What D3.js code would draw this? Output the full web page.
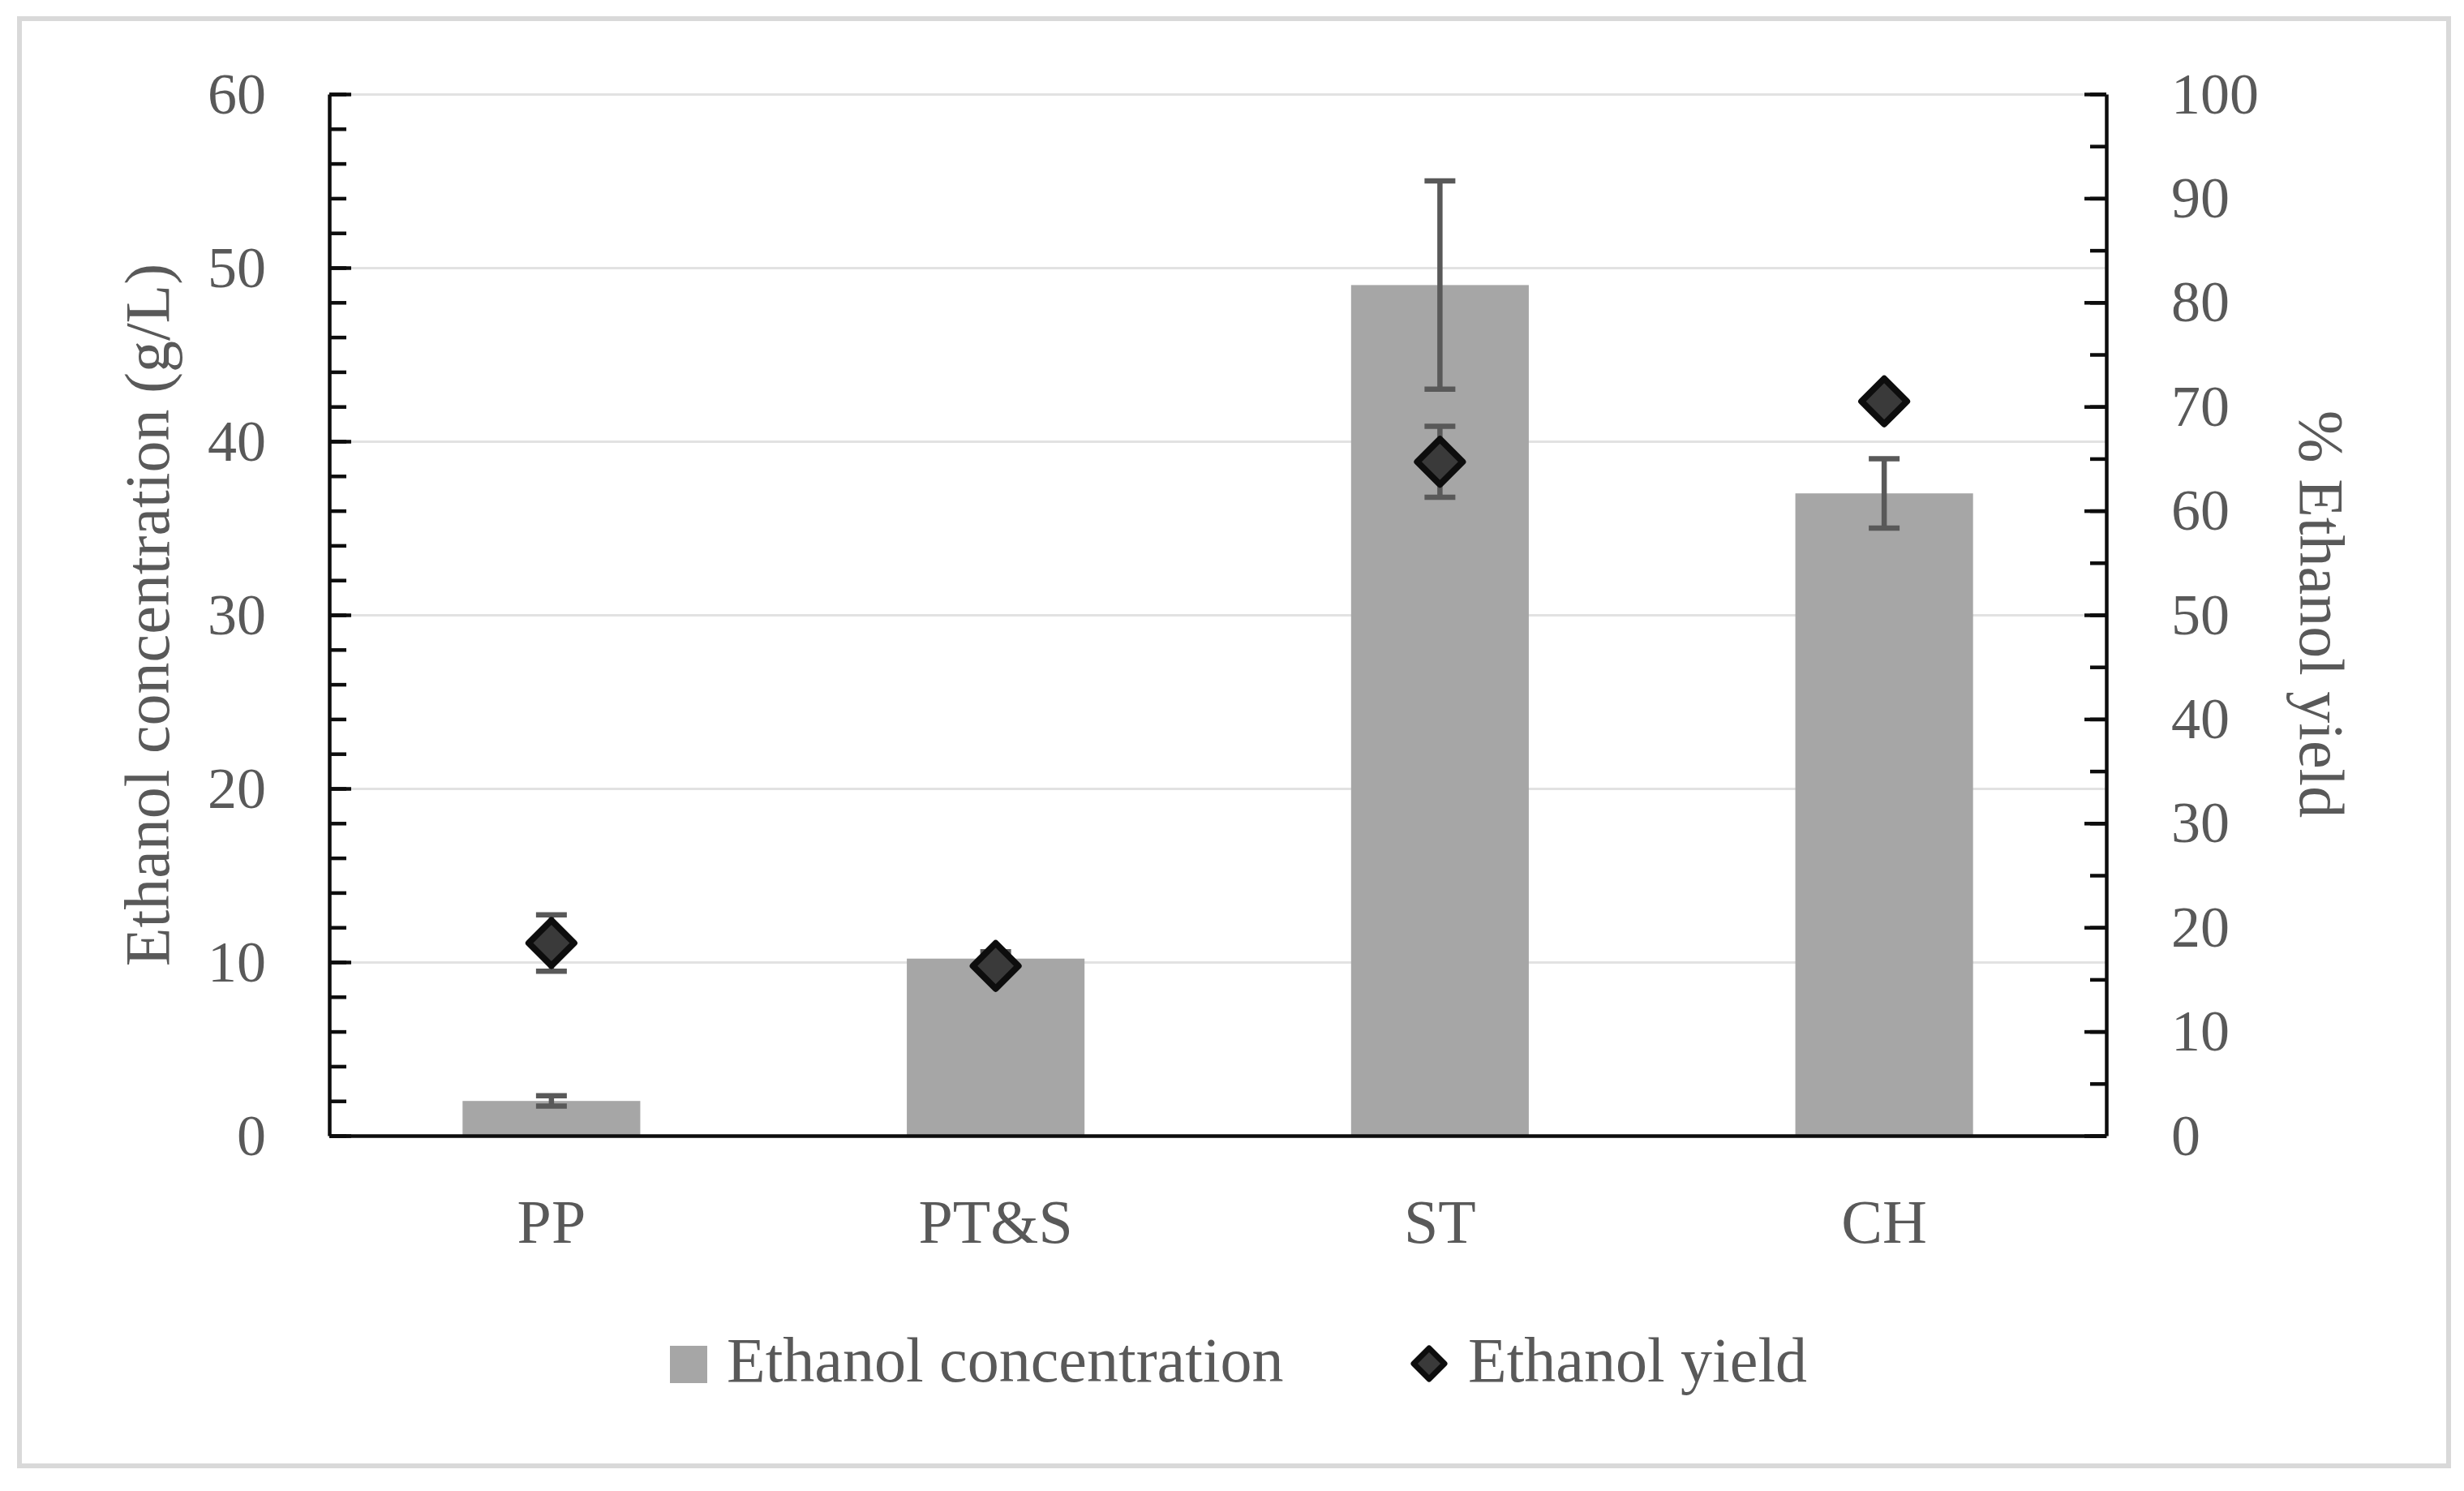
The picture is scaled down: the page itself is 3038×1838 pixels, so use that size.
<!DOCTYPE html>
<html>
<head>
<meta charset="utf-8">
<script src="https://cdn.jsdelivr.net/npm/d3@7"></script>
<style>
  body { margin: 0; background: #fff; }
  text { font-family: "Palatino Linotype", "Book Antiqua", Palatino, "Liberation Serif", serif; fill: #595959; }
</style>
</head>
<body>
<div id="chart"></div>
<script>
const categories = ['PP', 'PT&S', 'ST', 'CH'];
const concentration = [2.0, 10.2, 49.0, 37.0];
const concentrationErr = [0.3, 0.4, 6.0, 2.0];
const yieldPct = [18.5, 16.3, 64.7, 70.5];
const yieldErr = [2.7, 0, 3.4, 0];
const leftTicks = [0, 10, 20, 30, 40, 50, 60];
const rightTicks = [0, 10, 20, 30, 40, 50, 60, 70, 80, 90, 100];

const width = 3038;
const height = 1838;
const margin = {top: 116, bottom: 438, left: 406, right: 441};
const plotW = width - margin.left - margin.right;
const plotH = height - margin.top - margin.bottom;

const rows = categories.map((c, i) => ({
    cat: c,
    conc: concentration[i],
    concErr: concentrationErr[i],
    yld: yieldPct[i],
    yldErr: yieldErr[i]
}));

const x = d3.scaleBand()
    .domain(categories)
    .range([0, plotW])
    .paddingInner(0.6)
    .paddingOuter(0.3);

const y = d3.scaleLinear().domain([0, 60]).range([plotH, 0]);
const y2 = d3.scaleLinear().domain([0, 100]).range([plotH, 0]);

const svg = d3.select('#chart')
    .append('svg')
    .attr('width', width)
    .attr('height', height);

svg.append('rect')
    .attr('x', 24)
    .attr('y', 23)
    .attr('width', 2995)
    .attr('height', 1784)
    .attr('fill', '#fff')
    .attr('stroke', '#d9d9d9')
    .attr('stroke-width', 6);

const g = svg.append('g')
    .attr('transform', `translate(${margin.left},${margin.top})`);

// gridlines
const grid = g.append('g')
    .call(d3.axisLeft(y).tickValues(leftTicks.slice(1)).tickSize(-plotW).tickFormat(''));
grid.select('.domain').remove();
grid.selectAll('line').attr('stroke', '#e2e2e2').attr('stroke-width', 3);

// bars
g.selectAll('.bar')
    .data(rows)
    .enter()
    .append('rect')
    .attr('class', 'bar')
    .attr('x', d => x(d.cat))
    .attr('y', d => y(d.conc))
    .attr('width', x.bandwidth())
    .attr('height', d => plotH - y(d.conc))
    .attr('fill', '#a6a6a6');

function errorBars(data, scale, val, err) {
    const eb = g.append('g')
        .attr('stroke', '#595959')
        .attr('stroke-width', 6.5);
    const items = eb.selectAll('g')
        .data(data.filter(d => d[err] > 0))
        .enter()
        .append('g')
        .attr('transform', d => `translate(${x(d.cat) + x.bandwidth() / 2},0)`);
    items.append('line')
        .attr('y1', d => scale(d[val] - d[err]))
        .attr('y2', d => scale(d[val] + d[err]));
    items.append('line')
        .attr('x1', -19).attr('x2', 19)
        .attr('y1', d => scale(d[val] + d[err]))
        .attr('y2', d => scale(d[val] + d[err]));
    items.append('line')
        .attr('x1', -19).attr('x2', 19)
        .attr('y1', d => scale(d[val] - d[err]))
        .attr('y2', d => scale(d[val] - d[err]));
}

errorBars(rows, y, 'conc', 'concErr');
errorBars(rows, y2, 'yld', 'yldErr');

const diamond = r => `M0,${-r}L${r},0L0,${r}L${-r},0Z`;

g.selectAll('.pt')
    .data(rows)
    .enter()
    .append('path')
    .attr('class', 'pt')
    .attr('d', diamond(28))
    .attr('transform', d => `translate(${x(d.cat) + x.bandwidth() / 2},${y2(d.yld)})`)
    .attr('fill', '#3a3a3a')
    .attr('stroke', '#0d0d0d')
    .attr('stroke-width', 8)
    .attr('stroke-linejoin', 'round');

// left axis
const minorL = g.append('g')
    .call(d3.axisLeft(y).tickValues(d3.range(0, 61, 2)).tickSize(-21).tickSizeOuter(0).tickFormat(''));
minorL.select('.domain').remove();

const axL = g.append('g')
    .call(d3.axisLeft(y).tickValues(leftTicks).tickSize(-27).tickSizeOuter(0).tickPadding(78));

// right axis
const minorR = g.append('g')
    .attr('transform', `translate(${plotW},0)`)
    .call(d3.axisRight(y2).tickValues(d3.range(0, 101, 5)).tickSize(-20).tickSizeOuter(0).tickFormat(''));
minorR.select('.domain').remove();

const axR = g.append('g')
    .attr('transform', `translate(${plotW},0)`)
    .call(d3.axisRight(y2).tickValues(rightTicks).tickSize(-27).tickSizeOuter(0).tickPadding(80));

// bottom axis
const axB = g.append('g')
    .attr('transform', `translate(0,${plotH})`)
    .call(d3.axisBottom(x).tickSize(0).tickPadding(78));

[minorL, axL, minorR, axR, axB].forEach(a => {
    a.selectAll('line').attr('stroke', '#0d0d0d').attr('stroke-width', 4.5);
    a.selectAll('.domain').attr('stroke', '#0d0d0d').attr('stroke-width', 4.5);
    a.selectAll('text').attr('fill', '#595959').attr('font-family', null);
});
axL.selectAll('text').attr('font-size', 72);
axR.selectAll('text').attr('font-size', 72);
axB.selectAll('text').attr('font-size', 76);

// axis titles
svg.append('text')
    .attr('transform', 'translate(208,758) rotate(-90)')
    .attr('text-anchor', 'middle')
    .attr('font-size', 78)
    .text('Ethanol concentration (g/L)');

svg.append('text')
    .attr('transform', 'translate(2836,757) rotate(90)')
    .attr('text-anchor', 'middle')
    .attr('font-size', 78)
    .text('% Ethanol yield');

// legend
const legend = svg.append('g');
legend.append('rect')
    .attr('x', 826).attr('y', 1659)
    .attr('width', 46).attr('height', 46)
    .attr('fill', '#a6a6a6');
legend.append('text')
    .attr('x', 896).attr('y', 1703)
    .attr('font-size', 78)
    .text('Ethanol concentration');
legend.append('path')
    .attr('d', diamond(19))
    .attr('transform', 'translate(1762,1681)')
    .attr('fill', '#3a3a3a')
    .attr('stroke', '#0d0d0d')
    .attr('stroke-width', 7)
    .attr('stroke-linejoin', 'round');
legend.append('text')
    .attr('x', 1810).attr('y', 1703)
    .attr('font-size', 78)
    .text('Ethanol yield');
</script>
</body>
</html>
